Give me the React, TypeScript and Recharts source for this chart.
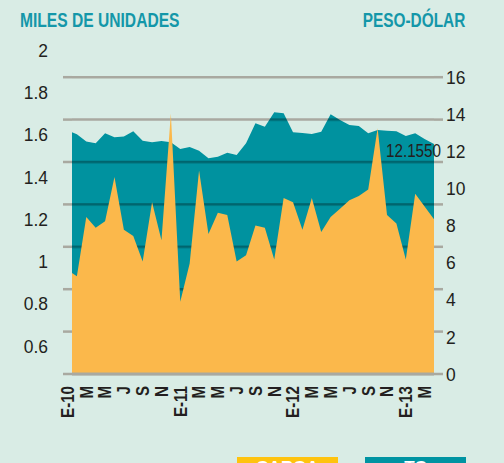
import React from "react";
import {
  ComposedChart,
  Area,
  XAxis,
  YAxis,
  CartesianGrid,
  LabelList,
} from "recharts";

// ---- data ----
const TICK_VALUES = [0, 2, 4, 6, 8, 10, 12, 14, 16, 18, 20, 22, 24, 26, 28, 30, 32, 34, 36, 38];
const TICK_LABELS = ["E-10", "M", "M", "J", "S", "N", "E-11", "M", "M", "J", "S", "N", "E-12", "M", "M", "J", "S", "N", "E-13", "M"];

// miles de unidades (left axis), monthly Jan-2010 .. Apr-2013
const CARGA = [
  0.96, 0.93, 1.21, 1.16, 1.19, 1.40, 1.15, 1.12, 1.00, 1.28, 1.10, 1.70,
  0.81, 0.99, 1.43, 1.13, 1.23, 1.22, 1.00, 1.03, 1.17, 1.16, 1.01, 1.30,
  1.28, 1.15, 1.30, 1.14, 1.21, 1.25, 1.29, 1.31, 1.34, 1.63, 1.22, 1.18,
  1.01, 1.32, 1.26, 1.20,
];
// peso-dólar (right axis)
const TC = [
  13.12, 12.92, 12.52, 12.43, 12.97, 12.75, 12.79, 13.08, 12.57, 12.48, 12.55, 12.48,
  12.12, 12.23, 12.03, 11.62, 11.71, 11.92, 11.80, 12.43, 13.51, 13.32, 14.10, 14.05,
  13.02, 12.98, 12.93, 13.05, 13.99, 13.68, 13.42, 13.36, 12.97, 13.15, 13.11, 13.08,
  12.82, 12.97, 12.66, 12.39,
];
const LAST_TC_LABEL = "12.1550";
const LEFT_TICKS = [0.6, 0.8, 1, 1.2, 1.4, 1.6, 1.8, 2];
const RIGHT_TICKS = [0, 2, 4, 6, 8, 10, 12, 14, 16];
const GRID_TICKS = [0, 1, 2, 3, 4, 5, 6, 7];
const LEFT_TITLE = "MILES DE UNIDADES";
const RIGHT_TITLE = "PESO-DÓLAR";
const LEGEND = [
  { name: "CARGA", color: "#fec30f" },
  { name: "TC", color: "#0094a2" },
];

const data = CARGA.map((c, i) => ({ t: i, carga: c, tc: TC[i] }));

// ---- layout / style ----
const W = 504;
const H = 463;
const TOP = 50;
const BOTTOM = 374;
const PLOT_H = BOTTOM - TOP;
const GRID_STEP = 42.4;
const BG = "#d9ece5";
const TEAL = "#00929f";
const TEAL_DARK = "#00656e";
const ORANGE = "#fbb84b";
const GRID = "#a9a9a0";
const INK = "#231f20";
const TITLE = "#1497a9";
const FONT = "'Liberation Sans', Arial, sans-serif";

const EmptyTick = () => <g />;

const LeftTick = (p: any) => (
  <text
    x={p.x}
    y={p.y}
    dy="0.35em"
    textAnchor="end"
    fontFamily={FONT}
    fontSize={19}
    fill={INK}
    transform={`translate(${p.x},0) scale(0.92,1) translate(${-p.x},0)`}
  >
    {String(p.payload.value)}
  </text>
);
const RightTick = (p: any) => (
  <text
    x={p.x}
    y={p.y}
    dy="0.35em"
    textAnchor="start"
    fontFamily={FONT}
    fontSize={19}
    fill={INK}
    transform={`translate(${p.x},0) scale(0.92,1) translate(${-p.x},0)`}
  >
    {String(p.payload.value)}
  </text>
);
const XTick = (p: any) => {
  const idx = TICK_VALUES.indexOf(p.payload.value);
  return (
    <text
      x={0}
      y={0}
      dy="0.35em"
      textAnchor="end"
      transform={`translate(${p.x},${p.y}) rotate(-90) scale(0.84,1)`}
      fontFamily={FONT}
      fontWeight="bold"
      fontSize={18}
      fill={INK}
    >
      {idx >= 0 ? TICK_LABELS[idx] : ""}
    </text>
  );
};

const LastLabel = (p: any) => {
  if (p.index !== TC.length - 1) return null;
  return (
    <text
      x={p.x + 7}
      y={p.y + 12.5}
      textAnchor="end"
      fontFamily={FONT}
      fontSize={19}
      fill={INK}
      textLength={55}
      lengthAdjust="spacingAndGlyphs"
    >
      {LAST_TC_LABEL}
    </text>
  );
};

const titleStyle: React.CSSProperties = {
  position: "absolute",
  top: 9,
  fontFamily: FONT,
  fontWeight: "bold",
  fontSize: 20,
  color: TITLE,
  whiteSpace: "nowrap",
};

export default function App() {
  return (
    <div style={{ position: "relative", width: W, height: H, overflow: "hidden", background: BG }}>
      <style>{`html,body{margin:0;padding:0;overflow:hidden;background:${BG};}`}</style>
      <ComposedChart
        width={W}
        height={H}
        data={data}
        margin={{ top: TOP, right: 0, bottom: 0, left: 0 }}
      >
        <defs>
          <pattern
            id="tealStripes"
            patternUnits="userSpaceOnUse"
            x={0}
            y={BOTTOM - 7 * GRID_STEP - 1.25}
            width={W}
            height={GRID_STEP}
          >
            <rect x={0} y={0} width={W} height={GRID_STEP} fill={TEAL} />
            <rect x={0} y={0} width={W} height={2.5} fill={TEAL_DARK} />
          </pattern>
        </defs>
        <CartesianGrid
          yAxisId="aGridL"
          vertical={false}
          horizontalValues={GRID_TICKS}
          stroke={GRID}
          strokeWidth={2.5}
        />
        <XAxis
          dataKey="t"
          type="number"
          domain={[0.48, 39]}
          allowDataOverflow
          ticks={TICK_VALUES}
          interval={0}
          height={H - BOTTOM}
          tickLine={false}
          axisLine={{ stroke: GRID, strokeWidth: 3 }}
          tickSize={0}
          tickMargin={12}
          tick={<XTick />}
        />
        <YAxis
          yAxisId="aGridL"
          orientation="left"
          width={9}
          domain={[0, PLOT_H / GRID_STEP]}
          allowDataOverflow
          ticks={GRID_TICKS}
          interval={0}
          tick={<EmptyTick />}
          tickSize={9}
          tickLine={{ stroke: GRID, strokeWidth: 2.5 }}
          axisLine={false}
        />
        <YAxis
          yAxisId="bLeft"
          orientation="left"
          width={63}
          domain={[2 - PLOT_H / 211.5, 2]}
          allowDataOverflow
          ticks={LEFT_TICKS}
          interval={0}
          tickLine={false}
          axisLine={false}
          tickSize={0}
          tickMargin={15}
          tick={<LeftTick />}
        />
        <YAxis
          yAxisId="aGridR"
          orientation="right"
          width={9}
          domain={[0, PLOT_H / GRID_STEP]}
          allowDataOverflow
          ticks={GRID_TICKS}
          interval={0}
          tick={<EmptyTick />}
          tickSize={9}
          tickLine={{ stroke: GRID, strokeWidth: 2.5 }}
          axisLine={false}
        />
        <YAxis
          yAxisId="bRight"
          orientation="right"
          width={61}
          domain={[0, PLOT_H / 18.5625]}
          allowDataOverflow
          ticks={RIGHT_TICKS}
          interval={0}
          tickLine={false}
          axisLine={false}
          tickSize={0}
          tickMargin={3}
          tick={<RightTick />}
        />
        <Area
          yAxisId="bRight"
          dataKey="tc"
          type="linear"
          stroke="none"
          fill="url(#tealStripes)"
          fillOpacity={1}
          isAnimationActive={false}
          dot={false}
          activeDot={false}
        >
          <LabelList dataKey="tc" content={<LastLabel />} />
        </Area>
        <Area
          yAxisId="bLeft"
          dataKey="carga"
          type="linear"
          stroke="none"
          fill={ORANGE}
          fillOpacity={1}
          isAnimationActive={false}
          dot={false}
          activeDot={false}
        />
      </ComposedChart>
      <div style={{ ...titleStyle, left: 20, transform: "scaleX(0.78)", transformOrigin: "left top" }}>
        {LEFT_TITLE}
      </div>
      <div style={{ ...titleStyle, right: 39, transform: "scaleX(0.77)", transformOrigin: "right top" }}>
        {RIGHT_TITLE}
      </div>
      {LEGEND.map((l, i) => (
        <div
          key={l.name}
          style={{
            position: "absolute",
            left: 237 + i * 128,
            top: 457,
            width: 101,
            height: 22,
            background: l.color,
            color: "#fff",
            fontFamily: FONT,
            fontWeight: "bold",
            fontSize: 17,
            lineHeight: "22px",
            textAlign: "center",
          }}
        >
          {l.name}
        </div>
      ))}
    </div>
  );
}
